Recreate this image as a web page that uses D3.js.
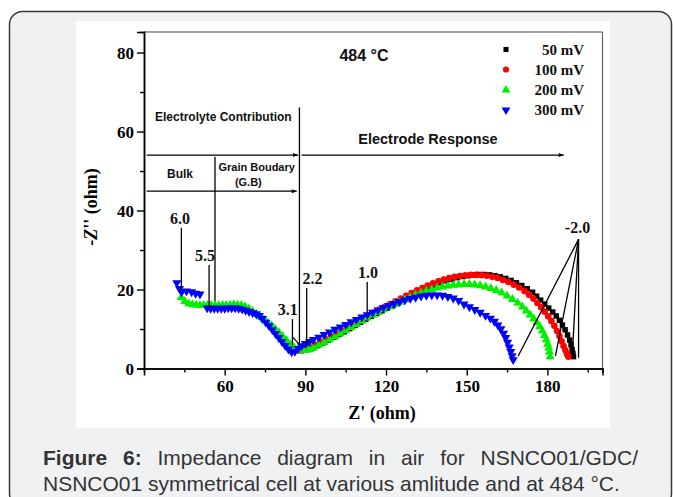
<!DOCTYPE html>
<html><head><meta charset="utf-8">
<script src="https://cdn.jsdelivr.net/npm/d3@7"></script>
<style>html,body{margin:0;padding:0;background:#fff;}svg{display:block;}</style>
</head><body>
<script>
// ---------- DATA ----------
const seriesNames = ["50 mV", "100 mV", "200 mV", "300 mV"];
const seriesColors = ["#000000", "#ff0000", "#00f000", "#0000ff"];

const s50x = [86.5,88.5,90.5,92.5,94.5,96.5,98.5,100.5,102.5,104.5,106.5,108.5,110.5,112.5,114.5,116.5,118.5,120.5,122.5,124.5,126.5,128.5,130.5,132.5,134.5,136.5,138.5,140.5,142.5,144.5,146.5,148.5,150.5,152.5,154.5,156.5,158.5,160.5,162.5,164.5,166.5,168.5,170.5,172.5,174.5,176,177.5,179,180.5,182,183.3,184.5,185.6,186.6,187.5,188.3,188.8,189.2,189.5,189.7];
const s50y = [4.6,4.5,4.7,5.2,5.8,6.5,7.2,7.9,8.6,9.3,10.1,10.9,11.7,12.5,13.2,13.9,14.6,15.3,15.9,16.6,17.3,17.9,18.6,19.3,19.9,20.5,21.1,21.7,22.2,22.6,23.0,23.3,23.5,23.7,23.8,23.8,23.7,23.5,23.2,22.8,22.3,21.7,21.0,20.2,19.3,18.3,17.3,16.3,15.3,14.3,13.3,12.2,11.0,9.8,8.5,7.2,6.0,4.8,3.8,3.0];

const s100x = [83.5,85.5,87.5,89.5,91.5,93.5,95.5,97.5,99.5,101.5,103.5,105.5,107.5,109.5,111.5,113.5,115.5,117.5,119.5,121.5,123.5,125.5,127.5,129.5,131.5,133.5,135.5,137.5,139.5,141.5,143.5,145.5,147.5,149.5,151.5,153.5,155.5,157.5,159.5,161.5,163.5,165.5,167.5,169.5,171.5,173.2,174.8,176.3,177.7,179,180.3,181.5,182.6,183.6,184.5,185.3,186,186.7,187.3,187.8];
const s100y = [6.0,4.8,4.6,4.9,5.4,6.0,6.7,7.4,8.1,8.8,9.6,10.4,11.2,12.0,12.8,13.5,14.2,14.9,15.6,16.3,17.0,17.7,18.4,19.1,19.8,20.4,21.0,21.6,22.1,22.5,22.9,23.2,23.4,23.6,23.7,23.7,23.6,23.5,23.2,22.9,22.4,21.9,21.2,20.5,19.6,18.7,17.7,16.6,15.5,14.4,13.2,12.0,10.8,9.5,8.2,6.9,5.7,4.6,3.7,3.0];

const s200x = [43.8,45.2,46.6,48,49.4,50.8,52.2,53.6,55,56.4,57.8,59.2,60.6,62,63.4,64.8,66.2,67.6,69,70.4,71.8,73.2,74.6,76,77.4,78.8,80.2,81.6,83,84.4,85.8,87.2,88.6,90,91.5,93,95,97,99,101,103,105,107,109,111,113,115,117,119,121,123,125,127,129,131,133,135,137,139,141,143,145,147,149,151,153,155,157,159,161,163,165,167,169,170.7,172.2,173.6,174.9,176.1,177.2,178.1,178.9,179.6,180.1,180.5,180.8,181];
const s200y = [18.0,17.0,16.4,16.2,16.1,16.0,16.0,16.0,16.0,16.0,16.0,16.0,16.0,16.1,16.2,16.1,16.0,15.6,15.1,14.5,13.8,13.1,12.4,11.6,10.9,10.0,9.1,8.1,7.1,6.1,5.3,4.8,4.6,4.6,4.8,5.2,5.9,6.6,7.3,8.0,8.8,9.6,10.4,11.2,12.0,12.8,13.5,14.2,14.9,15.6,16.2,16.8,17.4,18.0,18.6,19.1,19.6,20.0,20.4,20.7,20.9,21.1,21.2,21.3,21.3,21.2,21.0,20.7,20.3,19.8,19.2,18.4,17.5,16.6,15.6,14.6,13.6,12.6,11.6,10.6,9.5,8.4,7.3,6.2,5.2,4.2,3.0];

const s300x = [42.2,43.2,44.0,45.8,47.7,49.2,50.8,53.5,54.8,56.1,57.4,58.7,60.0,61.3,62.6,63.9,65.2,66.5,67.8,69.1,70.4,71.7,72.9,74.1,75.3,76.5,77.7,78.9,80.1,81.3,82.5,83.7,84.9,86.1,87.3,88.6,90,91.5,93,95,97,99,101,103,105,107,109,111,113,115,117,119,121,123,125,127,129,131,133,135,137,139,141,143,145,147,149,151,153,155,157,158.8,160.3,161.6,162.7,163.7,164.5,165.2,165.8,166.4,166.9,167.3];
const s300y = [21.7,20.2,19.4,19.6,19.4,19.0,18.8,15.3,15.2,15.2,15.2,15.2,15.2,15.3,15.3,15.3,15.2,15.0,14.7,14.4,14.1,13.8,13.4,12.6,11.7,10.8,9.8,8.8,7.8,6.8,5.8,4.9,4.2,4.3,5.0,5.7,6.3,6.8,7.3,7.9,8.6,9.2,9.9,10.5,11.1,11.8,12.4,13.0,13.6,14.2,14.8,15.4,15.9,16.4,16.9,17.3,17.7,18.0,18.3,18.5,18.6,18.6,18.5,18.2,17.8,17.2,16.3,15.6,14.9,14.2,13.4,12.7,11.9,11.0,10.0,8.9,7.8,6.6,5.4,4.3,3.2,2.2];

const xTicks = [60, 90, 120, 150, 180];
const xMinor = [45, 75, 105, 135, 165, 195];
const yTicks = [0, 20, 40, 60, 80];
const yMinor = [10, 30, 50, 70];

// frequency (log f) annotations, data coordinates
const freqText = ["6.0", "5.5", "3.1", "2.2", "1.0"];
const freqLabelX = [43.4, 52.7, 83.5, 92.7, 113.3];
const freqLineX = [43.9, 54.2, 85.2, 90.5, 113.0];
const freqTop = [35.6, 26.2, 12.5, 20.4, 21.9];
const freqBottom = [19.9, 15.3, 5.9, 5.9, 14.2];
const endLabel = "-2.0";
const endLabelPos = [191.2, 34.4];
const endApex = [191.6, 32.7];
const endTargets = [[169.1, 3.1], [183.0, 3.2], [189.3, 3.9], [191.6, 2.7]];

// ---------- LAYOUT ----------
const W = 673, H = 497;
const svg = d3.select("body").append("svg").attr("width", W).attr("height", H);

svg.append("rect").attr("x", 9.5).attr("y", 11.5).attr("width", 662).attr("height", 495)
  .attr("rx", 13).attr("fill", "#f0f1f3").attr("stroke", "#3a3a3a").attr("stroke-width", 1.5);
svg.append("rect").attr("x", 76).attr("y", 21).attr("width", 534).attr("height", 407).attr("fill", "#fff");

const x = d3.scaleLinear().domain([30, 200.5]).range([144, 602.5]);
const y = d3.scaleLinear().domain([0, 85.2]).range([368.5, 32]);

const serif = "'Liberation Serif','Times New Roman',serif";
const sans = "'Liberation Sans',Arial,sans-serif";

// frame top/right
svg.append("line").attr("x1", 144).attr("x2", 602.5).attr("y1", 32).attr("y2", 32).attr("stroke", "#444").attr("stroke-width", 1.2);
svg.append("line").attr("x1", 602.5).attr("x2", 602.5).attr("y1", 32).attr("y2", 368.5).attr("stroke", "#666").attr("stroke-width", 1.2);

function styleAxis(g) {
  g.select(".domain").attr("stroke", "#000").attr("stroke-width", 1.5);
  g.selectAll(".tick line").attr("stroke", "#000").attr("stroke-width", 1.4);
  g.selectAll("text").attr("font-family", serif).attr("font-weight", "bold").attr("font-size", 17).attr("fill", "#000");
}
const gx = svg.append("g").attr("transform", `translate(0,${y(0)})`)
  .call(d3.axisBottom(x).tickValues(xTicks).tickSize(7).tickPadding(4).tickFormat(d3.format("d")));
styleAxis(gx);
const gxm = svg.append("g").attr("transform", `translate(0,${y(0)})`)
  .call(d3.axisBottom(x).tickValues(xMinor).tickSize(4).tickFormat(""));
styleAxis(gxm);
const gy = svg.append("g").attr("transform", `translate(${x(30)},0)`)
  .call(d3.axisLeft(y).tickValues(yTicks).tickSize(7).tickPadding(3).tickFormat(d3.format("d")));
styleAxis(gy);
gy.selectAll("text").attr("dy", "0.35em");
const gym = svg.append("g").attr("transform", `translate(${x(30)},0)`)
  .call(d3.axisLeft(y).tickValues(yMinor).tickSize(4).tickFormat(""));
styleAxis(gym);

// axis titles
svg.append("text").attr("x", 382).attr("y", 419).attr("text-anchor", "middle")
  .attr("font-family", serif).attr("font-weight", "bold").attr("font-size", 18).text("Z' (ohm)");
const yt = svg.append("text").attr("transform", "translate(97,207) rotate(-90)").attr("text-anchor", "middle")
  .attr("font-family", serif).attr("font-weight", "bold").attr("font-size", 18);
yt.append("tspan").text("-");
yt.append("tspan").attr("font-style", "italic").text("Z");
yt.append("tspan").text("'' (ohm)");

// arrow marker
svg.append("defs").append("marker").attr("id", "arr").attr("viewBox", "0 0 10 10")
  .attr("refX", 10).attr("refY", 5).attr("markerWidth", 7).attr("markerHeight", 5)
  .attr("markerUnits", "userSpaceOnUse").attr("orient", "auto")
  .append("path").attr("d", "M0,1L10,5L0,9Z").attr("fill", "#000");

// region annotation lines
const ann = svg.append("g").attr("stroke", "#000").attr("stroke-width", 1.3);
function seg(x1, y1, x2, y2, arrow) {
  const l = ann.append("line").attr("x1", x(x1)).attr("y1", y(y1)).attr("x2", x(x2)).attr("y2", y(y2));
  if (arrow) l.attr("marker-end", "url(#arr)");
}
seg(87.8, 66.1, 87.8, 5.9, false);
seg(31.0, 54.05, 87.3, 54.05, true);
seg(88.6, 54.05, 186.1, 54.05, true);
seg(31.0, 44.9, 86.8, 44.9, true);
seg(56.4, 53.6, 56.4, 16.1, false);

function lab(t, xv, yv, size, font, weight, anchor) {
  svg.append("text").attr("x", x(xv)).attr("y", y(yv)).attr("text-anchor", anchor || "middle")
    .attr("font-family", font).attr("font-weight", weight || "bold").attr("font-size", size).attr("fill", "#111").text(t);
}
lab("Electrolyte Contribution", 59.5, 62.7, 12, sans);
lab("Bulk", 43.4, 48.3, 12, sans);
lab("Grain Boudary", 71.9, 50.1, 11, sans);
lab("(G.B)", 68.8, 46.3, 11, sans);
lab("Electrode Response", 135.6, 56.9, 14.5, sans);
lab("484 °C", 111.8, 77.8, 16, sans);

// data series
const series = [
  {x: s50x, y: s50y, sym: d3.symbolSquare, size: 30},
  {x: s100x, y: s100y, sym: d3.symbolCircle, size: 34},
  {x: s200x, y: s200y, sym: d3.symbolTriangle, size: 36},
  {x: s300x, y: s300y, sym: d3.symbolTriangle, size: 36, flip: true}
];
series.forEach((s, i) => {
  const pts = s.x.map((v, k) => [v, s.y[k]]);
  svg.append("g").selectAll("path").data(pts).join("path")
    .attr("transform", d => `translate(${x(d[0])},${y(d[1])})${s.flip ? " rotate(180)" : ""}`)
    .attr("d", d3.symbol().type(s.sym).size(s.size))
    .attr("fill", seriesColors[i]);
});

// frequency annotations
const fa = svg.append("g");
freqText.forEach((t, i) => {
  fa.append("line").attr("x1", x(freqLineX[i])).attr("x2", x(freqLineX[i]))
    .attr("y1", y(freqTop[i])).attr("y2", y(freqBottom[i])).attr("stroke", "#000").attr("stroke-width", 1.3);
  fa.append("text").attr("x", x(freqLabelX[i])).attr("y", y(freqTop[i]) - 4).attr("text-anchor", "middle")
    .attr("font-family", serif).attr("font-weight", "bold").attr("font-size", 16).attr("fill", "#111").text(t);
});
// small kink at 3.1
fa.append("line").attr("x1", x(85.2)).attr("y1", y(8.0)).attr("x2", x(88)).attr("y2", y(5.9)).attr("stroke", "#000").attr("stroke-width", 1.2);
endTargets.forEach(p => {
  fa.append("line").attr("x1", x(endApex[0])).attr("y1", y(endApex[1])).attr("x2", x(p[0])).attr("y2", y(p[1]))
    .attr("stroke", "#000").attr("stroke-width", 1.3);
});
fa.append("text").attr("x", x(endLabelPos[0])).attr("y", y(endLabelPos[1])).attr("text-anchor", "middle")
  .attr("font-family", serif).attr("font-weight", "bold").attr("font-size", 16).attr("fill", "#111").text(endLabel);

// legend
const legRowY = [49.5, 69.5, 90, 110];
const legSyms = [d3.symbolSquare, d3.symbolCircle, d3.symbolTriangle, d3.symbolTriangle];
const legSizes = [26, 30, 34, 34];
seriesNames.forEach((n, i) => {
  svg.append("path").attr("transform", `translate(506,${legRowY[i]})${i === 3 ? " rotate(180)" : ""}`)
    .attr("d", d3.symbol().type(legSyms[i]).size(legSizes[i])).attr("fill", seriesColors[i]);
  svg.append("text").attr("x", 584).attr("y", legRowY[i] + 5).attr("text-anchor", "end")
    .attr("font-family", serif).attr("font-weight", "bold").attr("font-size", 15).attr("fill", "#111").text(n);
});

// caption (justified first line)
const cap1 = [["Figure", true], ["6:", true], ["Impedance", false], ["diagram", false], ["in", false], ["air", false], ["for", false], ["NSNCO01/GDC/", false]];
const capG = svg.append("g").attr("font-family", sans).attr("font-size", 21).attr("fill", "#333");
const nodes = cap1.map(w => capG.append("text").attr("y", 465).attr("font-weight", w[1] ? "bold" : "normal").text(w[0]));
const widths = nodes.map(n => n.node().getComputedTextLength());
const total = widths.reduce((a, b) => a + b, 0);
const gap = (638 - 43 - total) / (nodes.length - 1);
let cx = 43;
nodes.forEach((n, i) => { n.attr("x", cx); cx += widths[i] + gap; });
capG.append("text").attr("x", 43).attr("y", 491).text("NSNCO01 symmetrical cell at various amlitude and at 484 °C.");
</script>
</body></html>
